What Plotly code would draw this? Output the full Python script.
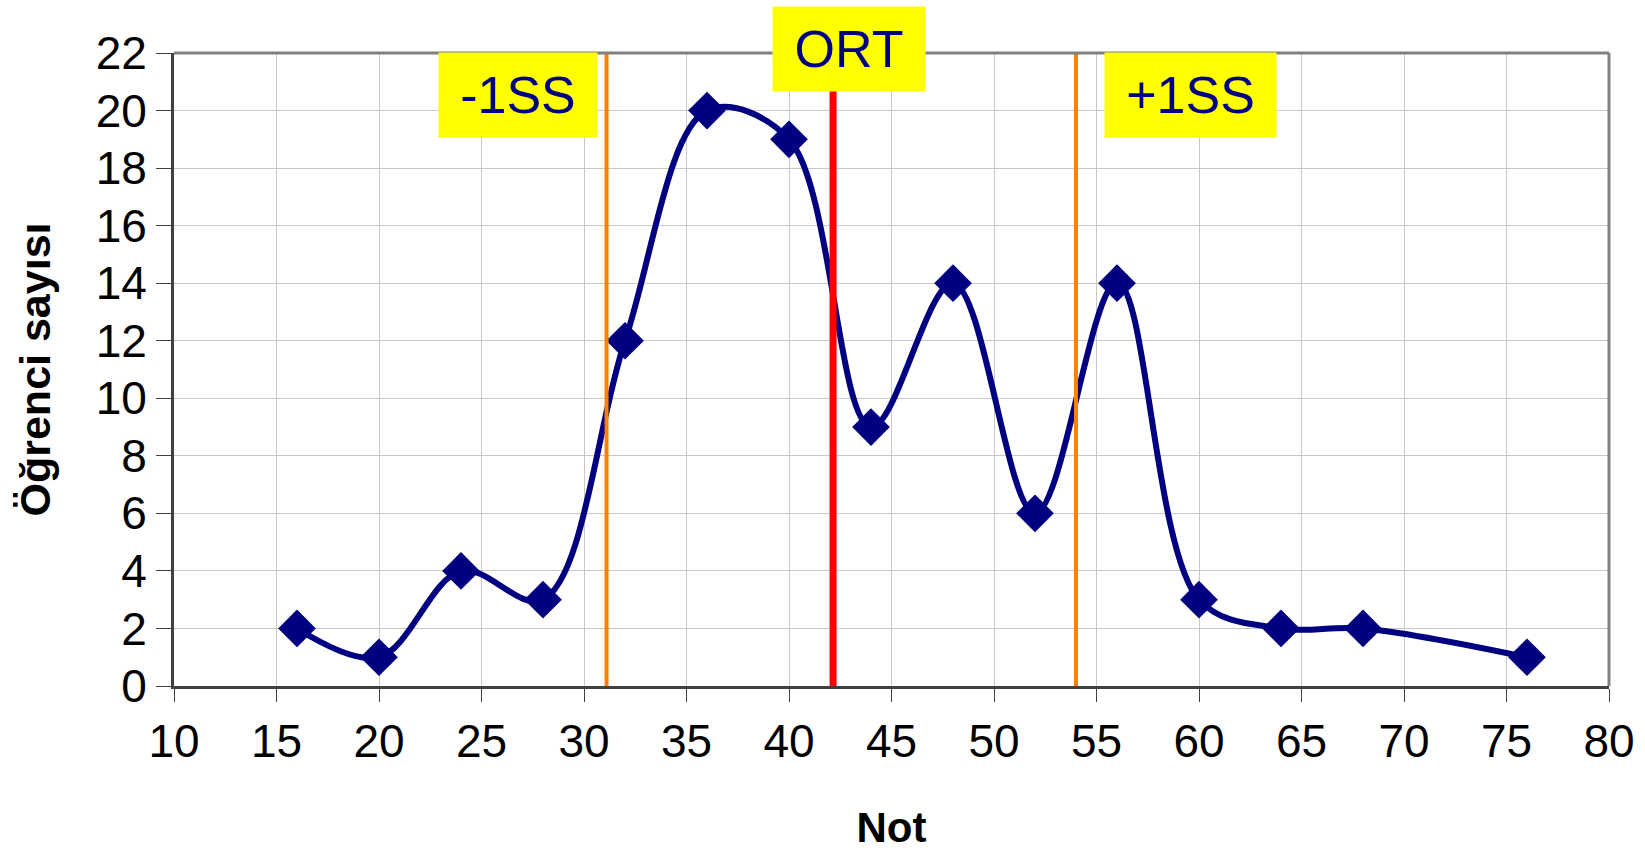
import plotly.graph_objects as go

# Data
notes = [16, 20, 24, 28, 32, 36, 40, 44, 48, 52, 56, 60, 64, 68, 76]
counts = [2, 1, 4, 3, 12, 20, 19, 9, 14, 6, 14, 3, 2, 2, 1]
ort = 42.15
sd_minus = 31.1
sd_plus = 54.0
x_ticks = list(range(10, 81, 5))
y_ticks = list(range(0, 23, 2))

FONT = "Liberation Sans, Arial, sans-serif"
NAVY = "#000080"

fig = go.Figure()
fig.add_trace(go.Scatter(
    x=notes, y=counts, mode="lines+markers",
    line=dict(color=NAVY, width=6, shape="spline", smoothing=1.0),
    marker=dict(symbol="diamond", size=29, color=NAVY),
    cliponaxis=False, showlegend=False,
))

# vertical reference lines
for xv, col, w in [(sd_minus, "#FF8000", 4), (sd_plus, "#FF8000", 4), (ort, "#FF0000", 7)]:
    fig.add_shape(type="line", xref="x", yref="y", x0=xv, x1=xv, y0=0, y1=22,
                  line=dict(color=col, width=w), layer="above")

# frame top/right (gray)
fig.add_shape(type="line", xref="paper", yref="paper", x0=0, x1=1, y0=1, y1=1,
              line=dict(color="#808080", width=3), layer="above")
fig.add_shape(type="line", xref="paper", yref="paper", x0=1, x1=1, y0=0, y1=1,
              line=dict(color="#808080", width=3), layer="above")

# labels (x in data units, y in paper units)
labels = [("-1SS", 26.8, 0.933, 158), ("ORT", 42.92, 1.006, 152), ("+1SS", 59.6, 0.933, 171)]
for txt, xv, yv, w in labels:
    fig.add_annotation(x=xv, y=yv, xref="x", yref="paper", text=txt, showarrow=False,
                       font=dict(family=FONT, size=52, color=NAVY),
                       bgcolor="#FFFF00", width=w, height=84, borderpad=0,
                       xanchor="center", yanchor="middle")

fig.update_layout(
    width=1645, height=851,
    margin=dict(l=174, r=36, t=53, b=165, autoexpand=False),
    paper_bgcolor="white", plot_bgcolor="white",
    font=dict(family=FONT, color="black"),
)
fig.update_xaxes(
    range=[10, 80], tickmode="array", tickvals=x_ticks, ticktext=[str(v) for v in x_ticks],
    showgrid=True, gridcolor="#C8C8C8", gridwidth=1,
    showline=True, linecolor="#404040", linewidth=3,
    ticks="outside", ticklen=13, tickcolor="#404040", tickwidth=1,
    tickfont=dict(size=46, family=FONT, color="black"),
    title=dict(text="<b>Not</b>", font=dict(size=42, family=FONT, color="black"), standoff=52),
    zeroline=False, automargin=False,
)
fig.update_yaxes(
    range=[0, 22], tickmode="array", tickvals=y_ticks, ticktext=[str(v) for v in y_ticks],
    showgrid=True, gridcolor="#C8C8C8", gridwidth=1,
    showline=True, linecolor="#404040", linewidth=3,
    ticks="outside", ticklen=15, tickcolor="#404040", tickwidth=1,
    tickfont=dict(size=46, family=FONT, color="black"),
    title=dict(text="<b>Öğrenci sayısı</b>", font=dict(size=43, family=FONT, color="black"), standoff=32),
    zeroline=False, automargin=False,
)

fig.write_html("out.html", config={"displayModeBar": False},
               post_script="document.body.style.margin='0';")
